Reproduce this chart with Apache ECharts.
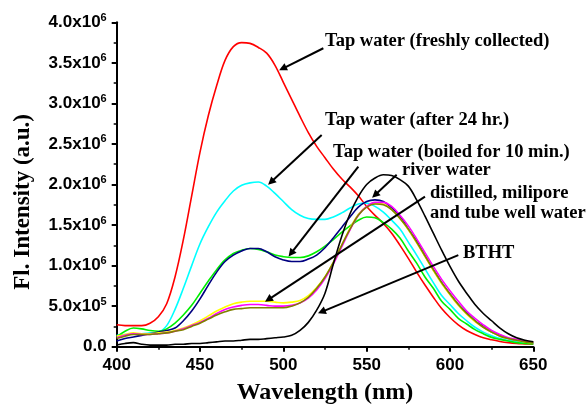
<!DOCTYPE html>
<html>
<head>
<meta charset="utf-8">
<script src="https://cdn.jsdelivr.net/npm/echarts@6/dist/echarts.min.js"></script>
<style>html,body{margin:0;padding:0;background:#fff;}#c{width:587px;height:404px;}</style>
</head>
<body>
<div id="c"></div>
<script>
// Wavelength (nm)
const wavelength = [400,405,410,415,420,425,430,435,440,445,450,455,460,465,470,475,480,485,490,495,500,505,510,515,520,525,530,535,540,545,550,555,560,565,570,575,580,585,590,595,600,605,610,615,620,625,630,635,640,645,650];
// Intensities in units of 1e6 (a.u.)
const tapFresh = [0.27,0.26,0.26,0.26,0.29,0.37,0.53,0.86,1.32,1.86,2.40,2.85,3.22,3.53,3.70,3.75,3.74,3.69,3.62,3.47,3.26,3.05,2.84,2.64,2.47,2.33,2.19,2.07,1.97,1.86,1.73,1.62,1.52,1.40,1.25,1.09,0.92,0.76,0.61,0.47,0.36,0.27,0.20,0.15,0.11,0.085,0.065,0.05,0.04,0.035,0.03];
const tap24h = [0.14,0.15,0.16,0.16,0.17,0.18,0.26,0.46,0.72,1.00,1.27,1.48,1.66,1.80,1.92,1.99,2.02,2.03,1.98,1.89,1.79,1.69,1.62,1.58,1.57,1.57,1.60,1.65,1.71,1.76,1.77,1.73,1.66,1.56,1.45,1.29,1.13,0.96,0.79,0.63,0.52,0.41,0.32,0.24,0.18,0.135,0.10,0.075,0.06,0.05,0.04];
const tapBoiled = [0.12,0.19,0.23,0.22,0.20,0.19,0.22,0.29,0.39,0.51,0.66,0.81,0.95,1.07,1.15,1.19,1.21,1.20,1.17,1.13,1.11,1.10,1.10,1.12,1.17,1.24,1.32,1.41,1.49,1.56,1.60,1.59,1.53,1.45,1.34,1.18,1.03,0.86,0.72,0.56,0.46,0.35,0.28,0.21,0.16,0.115,0.09,0.07,0.05,0.04,0.035];
const riverWater = [0.07,0.10,0.12,0.14,0.16,0.18,0.20,0.23,0.32,0.44,0.59,0.76,0.92,1.05,1.13,1.18,1.21,1.21,1.17,1.11,1.07,1.05,1.05,1.08,1.13,1.22,1.34,1.47,1.60,1.72,1.79,1.81,1.79,1.71,1.61,1.45,1.30,1.12,0.95,0.79,0.65,0.52,0.42,0.32,0.25,0.18,0.14,0.10,0.08,0.065,0.05];
const distilled = [0.13,0.15,0.17,0.16,0.16,0.17,0.18,0.20,0.23,0.27,0.32,0.38,0.44,0.49,0.53,0.55,0.56,0.56,0.56,0.55,0.54,0.55,0.57,0.63,0.73,0.86,1.04,1.25,1.46,1.63,1.73,1.77,1.76,1.69,1.58,1.44,1.28,1.11,0.94,0.78,0.64,0.51,0.40,0.31,0.24,0.18,0.13,0.10,0.08,0.06,0.05];
const milipore = [0.11,0.14,0.16,0.15,0.15,0.16,0.17,0.19,0.22,0.26,0.30,0.35,0.41,0.46,0.49,0.51,0.52,0.52,0.51,0.50,0.50,0.51,0.54,0.60,0.70,0.84,1.02,1.23,1.44,1.62,1.73,1.78,1.78,1.73,1.62,1.49,1.33,1.16,0.99,0.83,0.69,0.56,0.44,0.35,0.27,0.20,0.15,0.11,0.09,0.07,0.055];
const tubeWell = [0.10,0.13,0.15,0.15,0.15,0.16,0.17,0.19,0.21,0.25,0.29,0.34,0.39,0.43,0.46,0.47,0.48,0.48,0.48,0.48,0.48,0.50,0.54,0.61,0.72,0.86,1.04,1.25,1.45,1.62,1.72,1.76,1.75,1.69,1.58,1.45,1.29,1.12,0.95,0.79,0.65,0.52,0.41,0.32,0.24,0.18,0.13,0.10,0.08,0.06,0.05];
const btht = [0.02,0.04,0.05,0.03,0.02,0.02,0.02,0.03,0.03,0.04,0.04,0.05,0.06,0.07,0.07,0.08,0.09,0.09,0.10,0.11,0.12,0.14,0.20,0.30,0.45,0.66,1.02,1.36,1.64,1.85,2.00,2.08,2.12,2.11,2.06,1.98,1.81,1.61,1.40,1.19,0.99,0.81,0.66,0.52,0.41,0.32,0.23,0.16,0.11,0.08,0.06];

const seriesNames = ['Tap water (freshly collected)','Tap water (after 24 hr.)','Tap water (boiled for 10 min.)','river water','distilled','milipore','tube well water','BTHT'];
const seriesColors = ['#ff0000','#00ffff','#00ee00','#000080','#ffff00','#ff00ff','#808000','#000000'];
const seriesData = [tapFresh,tap24h,tapBoiled,riverWater,distilled,milipore,tubeWell,btht];

// Y tick labels
const yTickMantissa = ['0.0','5.0','1.0','1.5','2.0','2.5','3.0','3.5','4.0'];
const yTickExponent = ['','5','6','6','6','6','6','6','6'];

// Annotation texts and anchors (data units: nm, 1e6 a.u.)
const annoTexts = ['Tap water (freshly collected)','Tap water (after 24 hr.)','Tap water (boiled for 10 min.)','river water','distilled, milipore','and tube well water','BTHT'];
const annoTextAt = [[525,3.77],[525,2.795],[529.8,2.40],[571.2,2.17],[588,1.89],[588,1.645],[607.8,1.155]];
const arrowFrom = [[524,3.68],[523,2.61],[545,2.22],[568,2.12],[585,1.85],[605,1.13]];
const arrowTo = [[499.6,3.43],[492.6,2.03],[504.6,1.15],[555,1.87],[491,0.58],[523,0.43]];

const sans = 'Liberation Sans, Arial, sans-serif';
const serif = 'Liberation Serif, Times New Roman, serif';

const series = seriesData.map((arr, i) => ({
  name: seriesNames[i],
  type: 'line',
  data: wavelength.map((w, j) => [w, arr[j]]),
  smooth: 0.35,
  showSymbol: false,
  lineStyle: { color: seriesColors[i], width: 1.6 },
  itemStyle: { color: seriesColors[i] },
  z: 2
}));

series.push({
  type: 'line',
  data: [],
  clip: false,
  silent: true,
  z: 5,
  markLine: {
    silent: true,
    symbol: ['none', 'path://M0,0 L5,10 L-5,10 Z'],
    symbolSize: [8, 11],
    symbolKeepAspect: true,
    label: { show: false },
    lineStyle: { color: '#000', width: 2, type: 'solid' },
    itemStyle: { color: '#000' },
    data: arrowFrom.map((f, i) => [{ coord: f }, { coord: arrowTo[i] }])
  },
  markPoint: {
    silent: true,
    symbol: 'circle',
    symbolSize: 0,
    label: {
      show: true,
      position: 'right',
      distance: 0,
      color: '#000',
      fontFamily: serif,
      fontWeight: 'bold',
      fontSize: 18.5
    },
    data: annoTexts.map((t, i) => ({ coord: annoTextAt[i], value: t, label: { formatter: t } }))
  }
});

const chart = echarts.init(document.getElementById('c'), null, { renderer: 'canvas' });
chart.setOption({
  animation: false,
  backgroundColor: '#fff',
  grid: { left: 116.7, right: 53.7, top: 22.3, bottom: 57.3, containLabel: false, outerBoundsMode: 'none' },
  graphic: [{
    type: 'text',
    left: 12, top: 114,
    rotation: Math.PI / 2,
    style: { text: 'Fl. Intensity (a.u.)', fontFamily: serif, fontWeight: 'bold', fontSize: 23, fill: '#000' }
  }],
  xAxis: {
    type: 'value', min: 400, max: 650, interval: 50,
    name: 'Wavelength (nm)', nameLocation: 'middle', nameGap: 34,
    nameTextStyle: { fontFamily: serif, fontWeight: 'bold', fontSize: 24, color: '#000' },
    axisLine: { onZero: false, lineStyle: { color: '#000', width: 2 } },
    axisTick: { show: true, inside: false, length: 5, lineStyle: { color: '#000', width: 2 } },
    minorTick: { show: true, splitNumber: 2, length: 3, lineStyle: { color: '#000', width: 1.5 } },
    splitLine: { show: false },
    axisLabel: { margin: 10, color: '#000', fontFamily: sans, fontWeight: 'bold', fontSize: 17 }
  },
  yAxis: {
    type: 'value', min: 0, max: 4, interval: 0.5,
    axisLine: { show: true, onZero: false, lineStyle: { color: '#000', width: 2 } },
    axisTick: { show: true, inside: false, length: 5, lineStyle: { color: '#000', width: 2 } },
    minorTick: { show: true, splitNumber: 2, length: 3, lineStyle: { color: '#000', width: 1.5 } },
    splitLine: { show: false },
    axisLabel: {
      margin: 10,
      formatter: function (v) {
        const k = Math.round(v / 0.5);
        const m = yTickMantissa[k];
        const e = yTickExponent[k];
        return e ? '{b|' + m + 'x10}{s|' + e + '}' : '{b|' + m + '}';
      },
      rich: {
        b: { color: '#000', fontFamily: sans, fontWeight: 'bold', fontSize: 17, lineHeight: 20 },
        s: { color: '#000', fontFamily: sans, fontWeight: 'bold', fontSize: 11, lineHeight: 20, verticalAlign: 'top' }
      }
    }
  },
  series: series
});
</script>
</body>
</html>
